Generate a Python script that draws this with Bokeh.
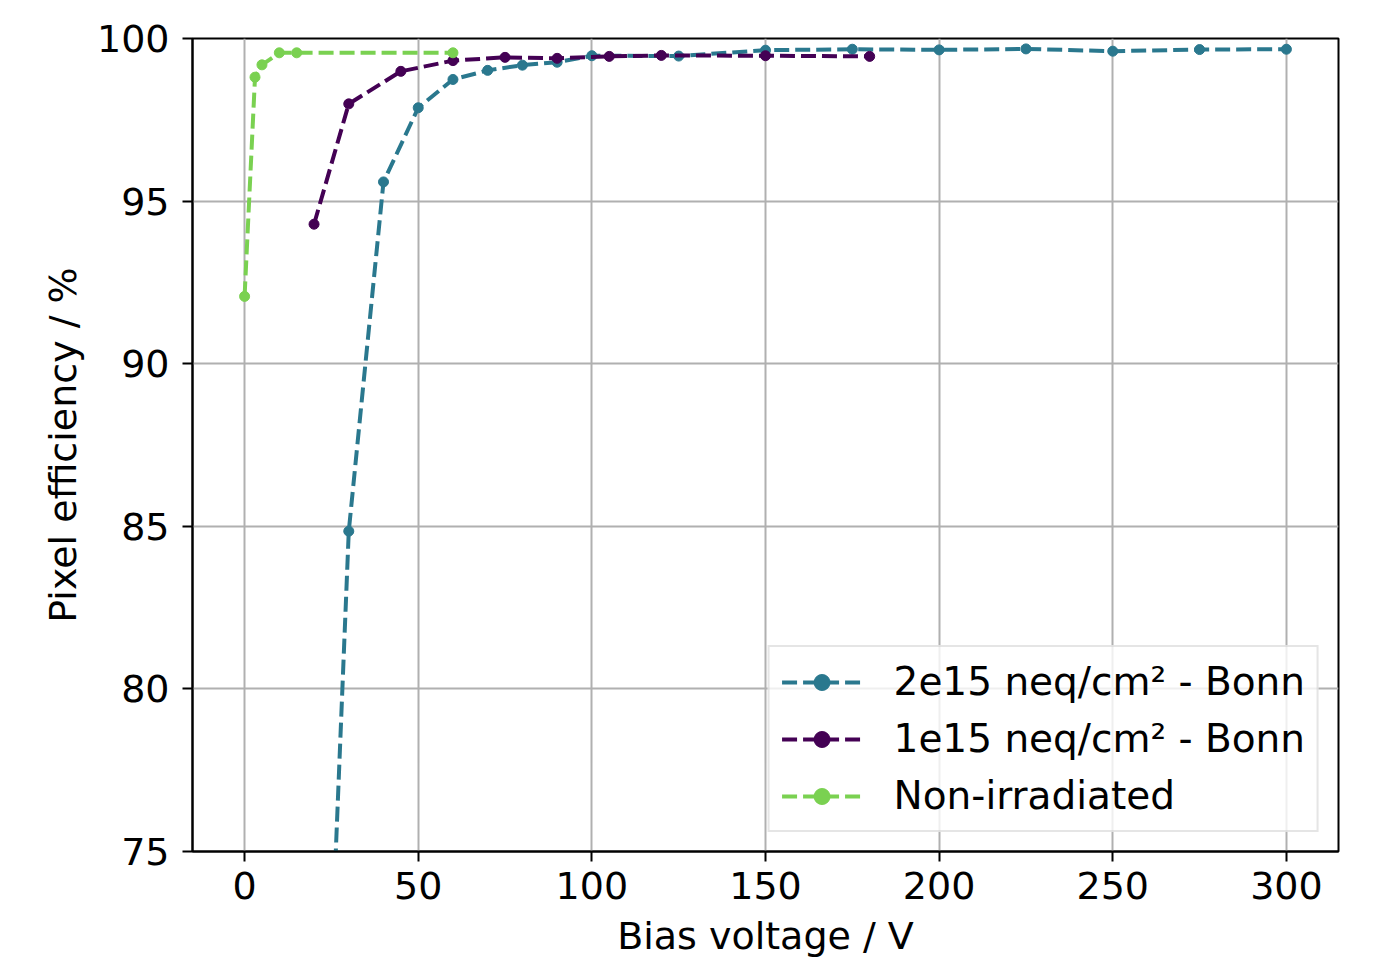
from bokeh.plotting import figure
from bokeh.models import FixedTicker, Range1d, Legend, LegendItem
from bokeh.embed import file_html
from bokeh.resources import INLINE

# Data
v_2e15 = [20, 30, 40, 50, 60, 70, 80, 90, 100, 125, 150, 175, 200, 225, 250, 275, 300]
eff_2e15 = [58.5, 84.85, 95.59, 97.87, 98.74, 99.02, 99.18, 99.27, 99.47, 99.46, 99.64, 99.67, 99.65, 99.68, 99.61, 99.66, 99.67]

v_1e15 = [20, 30, 45, 60, 75, 90, 105, 120, 150, 180]
eff_1e15 = [94.29, 97.99, 98.99, 99.32, 99.42, 99.39, 99.45, 99.48, 99.47, 99.45]

v_nonirr = [0, 3, 5, 10, 15, 60]
eff_nonirr = [92.07, 98.81, 99.19, 99.56, 99.56, 99.56]

labels = ["2e15 neq/cm² - Bonn", "1e15 neq/cm² - Bonn", "Non-irradiated"]
colors = ["#2a788e", "#440154", "#7ad151"]

x_ticks = [0, 50, 100, 150, 200, 250, 300]
y_ticks = [75, 80, 85, 90, 95, 100]

FONT = "DejaVu Sans"
FS = "38px"

p = figure(frame_width=1146, frame_height=813,
           x_range=Range1d(-15, 315), y_range=Range1d(75, 100),
           output_backend="svg", toolbar_location=None,
           min_border_left=192, min_border_top=38, min_border_right=41, min_border_bottom=105,
           background_fill_color="white", border_fill_color="white")

p.outline_line_color = "black"
p.outline_line_width = 2

for ax in (p.xaxis[0], p.yaxis[0]):
    ax.major_label_text_font = FONT
    ax.major_label_text_font_size = FS
    ax.major_label_text_color = "black"
    ax.axis_label_text_font = FONT
    ax.axis_label_text_font_size = FS
    ax.axis_label_text_font_style = "normal"
    ax.axis_label_text_color = "black"
    ax.axis_line_color = "black"
    ax.axis_line_width = 2
    ax.major_tick_line_color = "black"
    ax.major_tick_line_width = 2
    ax.major_tick_in = 0
    ax.major_tick_out = 10
    ax.minor_tick_line_color = None

p.xaxis.major_label_standoff = 10
p.yaxis.major_label_standoff = 13
p.xaxis.ticker = FixedTicker(ticks=x_ticks)
p.yaxis.ticker = FixedTicker(ticks=y_ticks)
p.xaxis.axis_label = "Bias voltage / V"
p.yaxis.axis_label = "Pixel efficiency / %"
p.xaxis.axis_label_standoff = 12
p.yaxis.axis_label_standoff = 9

p.grid.grid_line_color = "#b0b0b0"
p.grid.grid_line_width = 2

items = []
for xs, ys, c, lab in [(v_2e15, eff_2e15, colors[0], labels[0]),
                       (v_1e15, eff_1e15, colors[1], labels[1]),
                       (v_nonirr, eff_nonirr, colors[2], labels[2])]:
    l = p.line(xs, ys, line_color=c, line_width=4, line_dash="15 6")
    s = p.scatter(xs, ys, size=10, fill_color=c, line_color=c)
    items.append(LegendItem(label=lab, renderers=[l, s]))

legend = Legend(items=items, location="bottom_right")
legend.label_text_font = FONT
legend.label_text_font_size = "39px"
legend.label_text_color = "black"
legend.glyph_width = 80
legend.glyph_height = 40
legend.label_standoff = 32
legend.spacing = 12
legend.padding = 12
legend.margin = 19
legend.border_line_color = "#cccccc"
legend.border_line_width = 2
legend.background_fill_color = "white"
legend.background_fill_alpha = 0.8
p.add_layout(legend)

open("out.html", "w").write(file_html(p, INLINE))
